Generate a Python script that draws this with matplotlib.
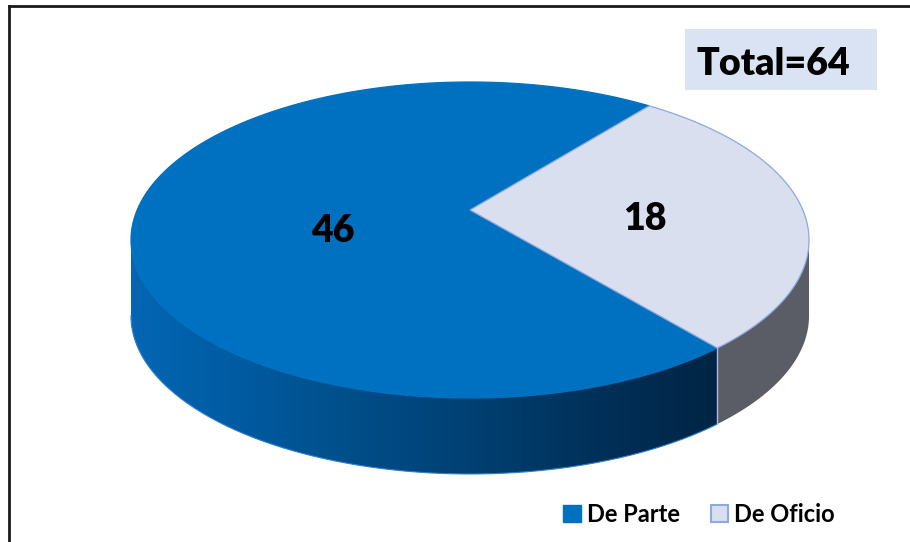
import numpy as np
import matplotlib.pyplot as plt
from matplotlib.patches import Polygon, Rectangle, Patch
from matplotlib.colors import LinearSegmentedColormap

plt.rcParams['font.family'] = ['Lato', 'DejaVu Sans']

# data
labels = ["De Parte", "De Oficio"]
values = [46, 18]
top_colors = ["#0070C0", "#D9DFEF"]
edge_colors = ["#0070C0", "#8EA9DB"]

# pie geometry (pixel units, y down)
cx, cy = 470, 240
rx, ry = 339, 158
apex = (470, 210)
depth = 76
start = 58.1


def ell(t0, t1, dy=0, n=200):
    t = np.radians(np.linspace(t0, t1, n))
    return np.column_stack([cx + rx * np.cos(t), cy - ry * np.sin(t) + dy])


fig = plt.figure(figsize=(9.1, 5.42), dpi=100)
ax = fig.add_axes([0, 0, 1, 1])

total = sum(values)
spans = [v / total * 360 for v in values]
bounds = start + np.concatenate([[0], np.cumsum(spans)])

wall_cmap = LinearSegmentedColormap.from_list(
    "wall", ["#0466B4", "#005CA3", "#00518E", "#00457C", "#003A68", "#002E55", "#002544"])

for i in range(len(values)):
    a0, a1 = bounds[i], bounds[i + 1]
    # side wall (front half only: 180..360 deg)
    for k in (-360, 0, 360):
        lo, hi = max(a0, 180 + k), min(a1, 360 + k)
        if hi <= lo:
            continue
        pts = np.vstack([ell(lo, hi), ell(hi, lo, depth)])
        if i == 0:
            wall = Polygon(pts, closed=True, facecolor="none", edgecolor="none")
            ax.add_patch(wall)
            grad = np.linspace(0, 1, 256)[None, :]
            im = ax.imshow(grad, extent=(cx - rx, pts[:, 0].max(), cy + depth + ry, cy),
                           cmap=wall_cmap, aspect="auto", zorder=1)
            im.set_clip_path(wall)
            bot = ell(lo, hi, depth)
            ax.plot(bot[:, 0], bot[:, 1], color="#2F7FCC", lw=0.8, zorder=1.5)
        else:
            ax.add_patch(Polygon(pts, closed=True, facecolor="#5A5D65",
                                 edgecolor="none", zorder=1))
    # top face
    pts = np.vstack([[apex], ell(a0, a1), [apex]])
    ax.add_patch(Polygon(pts, closed=True, facecolor=top_colors[i],
                         edgecolor=edge_colors[i], linewidth=0.9, zorder=2))

# divider line on the wall
b = bounds[1]
p_top = ell(b, b, 0, 1)[0]
ax.plot([p_top[0], p_top[0]], [p_top[1], p_top[1] + depth],
        color="#A9BCE5", lw=1.0, zorder=3)

# value labels
label_pos = [(333, 242), (645, 230)]
for (x, y), v in zip(label_pos, values):
    ax.text(x, y, str(v), ha="center", va="baseline", fontsize=27,
            fontweight="heavy", color="black", zorder=5)

# total box
ax.add_patch(Rectangle((685, 29), 192, 61, facecolor="#DAE3F3",
                       edgecolor="none", zorder=4))
ax.text(773, 75, f"Total={total}", ha="center", va="baseline", fontsize=27,
        fontweight="heavy", color="black", zorder=5)

# frame (top and left lines)
ax.plot([9, 910], [6, 6], color="#1a1a1a", lw=2, zorder=6)
ax.plot([9, 9], [6, 542], color="#1a1a1a", lw=2, zorder=6)

handles = [Patch(facecolor=top_colors[0], edgecolor=top_colors[0]),
           Patch(facecolor=top_colors[1], edgecolor=edge_colors[1], linewidth=1.5)]
leg = ax.legend(handles, labels, loc="center", bbox_to_anchor=(699 / 910, 1 - 514 / 542),
                bbox_transform=fig.transFigure, ncol=2, frameon=False,
                prop={"size": 17, "weight": "bold"}, handlelength=0.76,
                handleheight=0.76, handletextpad=0.25, columnspacing=1.3,
                borderpad=0, borderaxespad=0)

ax.set_xlim(0, 910)
ax.set_ylim(542, 0)
ax.axis("off")

fig.savefig("out.png", dpi=100)
